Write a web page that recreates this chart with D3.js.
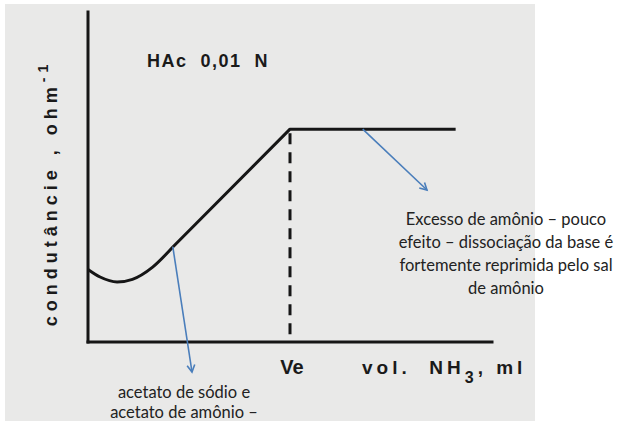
<!DOCTYPE html>
<head>
	<meta charset="utf-8">
	<title>Condutância - HAc titulado com NH3</title>
	<style>
	body { margin: 0; background: #fff; }
	.scan { fill: #e9e9e8; }
	.axis { stroke: #161616; stroke-width: 3; fill: none; stroke-linecap: square; }
	.curve { stroke: #161616; stroke-width: 3; fill: none; stroke-linejoin: round; }
	.ve { stroke: #161616; stroke-width: 3; stroke-dasharray: 11 8; }
	.old { font-family: "Liberation Sans", Arial, sans-serif; font-weight: bold; fill: #1a1a1a; white-space: pre; }
	.note { font-family: Lato, "Open Sans", sans-serif; font-size: 16.5px; fill: #222; text-anchor: middle; }
	.arrow { stroke: #4a7ebb; stroke-width: 1.6; fill: none; }
	</style>
</head>
<body>
<script src="https://d3js.org/d3.v7.min.js"></script>
<script>

var width = 623, height = 421

// condutância vs volume de NH3 (unidades arbitrárias)
var volume = [0, 0.3, 0.72, 1.1, 1.6, 2.1, 5.0, 9.1]
var conductance = [2.2, 1.97, 1.82, 1.9, 2.27, 2.88, 6.45, 6.45]
var ve = 5.0

var noteRight = ["Excesso de amônio – pouco", "efeito – dissociação da base é", "fortemente reprimida pelo sal", "de amônio"]
var noteBottom = ["acetato de sódio e", "acetato de amônio –"]

var svg = d3.select("body")
	.append("svg")
	.attr("width", width)
	.attr("height", height);

var x = d3.scaleLinear().domain([0, 10]).range([88, 492]);
var y = d3.scaleLinear().domain([0, 10]).range([342, 12]);

svg.append("rect").attr("class", "scan")
	.attr("x", 5).attr("y", 4).attr("width", 530).attr("height", 417);

// eixos
svg.append("line").attr("class", "axis")
	.attr("x1", x(0)).attr("x2", x(0)).attr("y1", y(10)).attr("y2", y(0));
svg.append("line").attr("class", "axis")
	.attr("x1", x(0)).attr("x2", x(10)).attr("y1", y(0)).attr("y2", y(0));

var pts = volume.map(function(v, i) { return [v, conductance[i]]; });

// trecho curvo (mínimo) e trecho reto até Ve e patamar
var curved = d3.line()
	.x(function(d) { return x(d[0]); })
	.y(function(d) { return y(d[1]); })
	.curve(d3.curveMonotoneX);
var straight = d3.line()
	.x(function(d) { return x(d[0]); })
	.y(function(d) { return y(d[1]); });

svg.append("path").attr("class", "curve").attr("d", curved(pts.slice(0, 6)));
svg.append("path").attr("class", "curve").attr("d", straight(pts.slice(5)));

svg.append("line").attr("class", "ve")
	.attr("x1", x(ve)).attr("x2", x(ve))
	.attr("y1", y(6.45) + 4).attr("y2", y(0));

// textos do gráfico escaneado
svg.append("text").attr("class", "old")
	.attr("x", 147).attr("y", 67)
	.style("font-size", "18px").style("letter-spacing", "1.5px")
	.text("HAc  0,01  N");

svg.append("text").attr("class", "old")
	.attr("x", x(ve) + 2).attr("y", 374).attr("text-anchor", "middle")
	.style("font-size", "20px")
	.text("Ve");

var xl = svg.append("text").attr("class", "old")
	.attr("x", 362).attr("y", 374)
	.style("font-size", "19px").style("letter-spacing", "4px");
xl.append("tspan").text("vol.  NH");
xl.append("tspan").attr("dy", 9).style("font-size", "16px").text("3");
xl.append("tspan").attr("dy", -9).text(", ml");

var yl = svg.append("text").attr("class", "old")
	.attr("transform", "translate(57,193) rotate(-90)")
	.attr("text-anchor", "middle")
	.style("font-size", "18px").style("letter-spacing", "5px");
yl.append("tspan").text("condutâncie , ohm");
yl.append("tspan").attr("dy", -9).style("font-size", "14px").text("-1");

// setas azuis
function arrow(x1, y1, x2, y2) {
	svg.append("line").attr("class", "arrow")
		.attr("x1", x1).attr("y1", y1).attr("x2", x2).attr("y2", y2);
	var a = Math.atan2(y2 - y1, x2 - x1), s = 8;
	svg.append("path").attr("class", "arrow")
		.attr("d", "M" + (x2 - s * Math.cos(a - 0.5)) + "," + (y2 - s * Math.sin(a - 0.5)) +
			"L" + x2 + "," + y2 +
			"L" + (x2 - s * Math.cos(a + 0.5)) + "," + (y2 - s * Math.sin(a + 0.5)));
}
arrow(x(6.8), y(6.45), 427, 190);
arrow(x(2.1), y(2.88), 192, 372);

svg.selectAll(".nr").data(noteRight).enter()
	.append("text").attr("class", "note nr")
	.attr("x", 506).attr("y", function(d, i) { return 225 + i * 23; })
	.text(function(d) { return d; });

svg.selectAll(".nb").data(noteBottom).enter()
	.append("text").attr("class", "note nb")
	.attr("x", 184).attr("y", function(d, i) { return 398 + i * 20; })
	.text(function(d) { return d; });

</script>
</body>
